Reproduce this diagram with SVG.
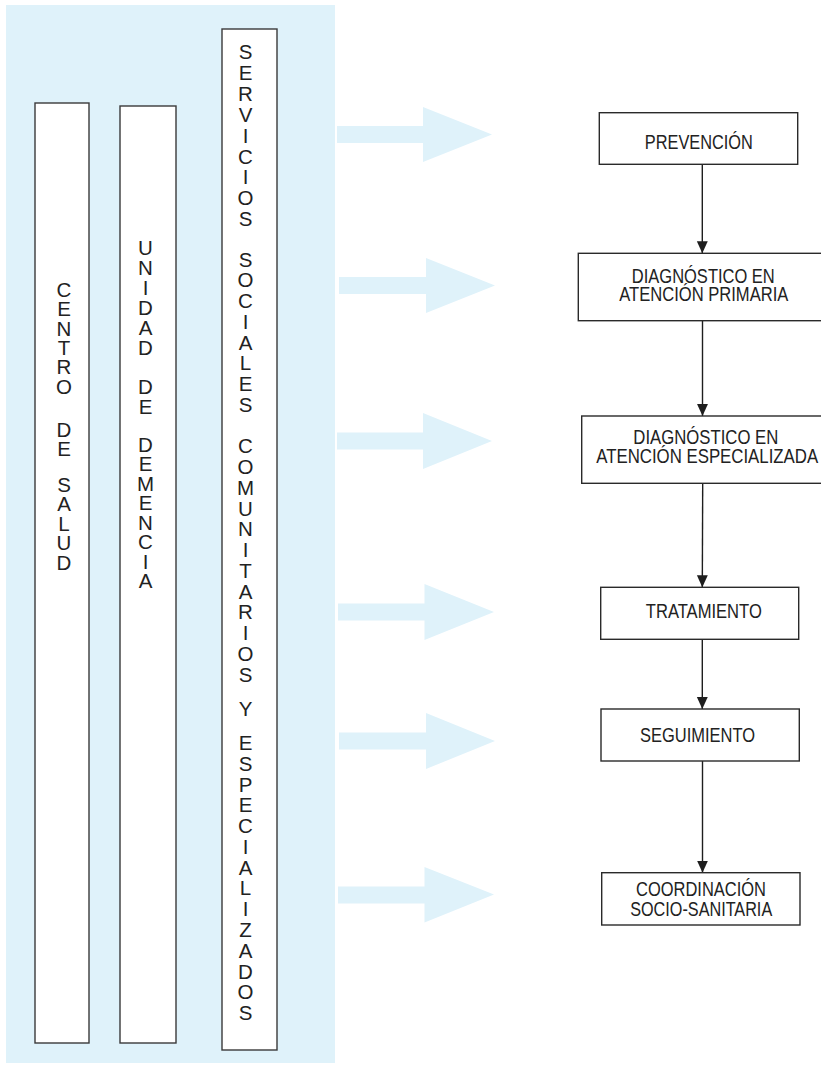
<svg xmlns="http://www.w3.org/2000/svg" width="821" height="1065" viewBox="0 0 821 1065">
<defs>
<style>
.panel{fill:#dff2fa}
.big{fill:#dff2fa}
.col{fill:#fff;stroke:#3a3a3a;stroke-width:1.4}
.box{fill:#fff;stroke:#2a2a2a;stroke-width:1.4}
.vt{font-family:"Liberation Sans Narrow","Liberation Sans",Arial,sans-serif;font-size:20.5px;fill:#222;text-anchor:middle}
.bt{font-family:"Liberation Sans Narrow","Liberation Sans",Arial,sans-serif;font-size:19.5px;fill:#222;text-anchor:middle}
.con{stroke:#1e1e1e;stroke-width:1.4;fill:none}
</style>
<marker id="ah" markerUnits="userSpaceOnUse" markerWidth="12" markerHeight="12" viewBox="0 0 11 10" refX="11" refY="5" orient="auto">
<path d="M0,0 L11,5 L0,10 z" fill="#1e1e1e"/>
</marker>
</defs>
<rect width="821" height="1065" fill="#fff"/>
<rect class="panel" x="6" y="5" width="329" height="1058"/>

<g id="bigarrows">
<polygon class="big" points="337,126 423,126 423,107 492,134.5 423,162 423,143 337,143"/>
<polygon class="big" points="339,277 426,277 426,258 495,285.5 426,313 426,294 339,294"/>
<polygon class="big" points="337,432.5 423,432.5 423,413 492,441 423,469 423,449.5 337,449.5"/>
<polygon class="big" points="338,603.5 424.5,603.5 424.5,584 494,612 424.5,640 424.5,620.5 338,620.5"/>
<polygon class="big" points="339,732.5 426,732.5 426,713 495,741 426,769 426,749.5 339,749.5"/>
<polygon class="big" points="338,886.5 424.5,886.5 424.5,867 494,894.5 424.5,922.5 424.5,903.5 338,903.5"/>
</g>

<g id="centro-de-salud">
<rect class="col" x="35" y="103" width="54" height="940"/>
<text class="vt"><tspan x="64" y="296.7">C</tspan><tspan x="64" y="316.1">E</tspan><tspan x="64" y="335.5">N</tspan><tspan x="64" y="354.9">T</tspan><tspan x="64" y="374.3">R</tspan><tspan x="64" y="393.7">O</tspan><tspan x="64" y="437">D</tspan><tspan x="64" y="456">E</tspan><tspan x="64" y="491.5">S</tspan><tspan x="64" y="511">A</tspan><tspan x="64" y="530.5">L</tspan><tspan x="64" y="550">U</tspan><tspan x="64" y="570">D</tspan></text>
</g>

<g id="unidad-de-demencia">
<rect class="col" x="120" y="106" width="56" height="937"/>
<text class="vt"><tspan x="145.5" y="255">U</tspan><tspan x="145.5" y="275">N</tspan><tspan x="145.5" y="295">I</tspan><tspan x="145.5" y="315">D</tspan><tspan x="145.5" y="335">A</tspan><tspan x="145.5" y="355">D</tspan><tspan x="145.5" y="394">D</tspan><tspan x="145.5" y="413.5">E</tspan><tspan x="145.5" y="451.7">D</tspan><tspan x="145.5" y="471.2">E</tspan><tspan x="145.5" y="490.7">M</tspan><tspan x="145.5" y="510.2">E</tspan><tspan x="145.5" y="529.7">N</tspan><tspan x="145.5" y="549.2">C</tspan><tspan x="145.5" y="568.7">I</tspan><tspan x="145.5" y="588.2">A</tspan></text>
</g>

<g id="servicios-sociales">
<rect class="col" x="222" y="29" width="55" height="1021"/>
<text class="vt"><tspan x="245.5" y="59">S</tspan><tspan x="245.5" y="79.9">E</tspan><tspan x="245.5" y="100.8">R</tspan><tspan x="245.5" y="121.7">V</tspan><tspan x="245.5" y="142.6">I</tspan><tspan x="245.5" y="163.5">C</tspan><tspan x="245.5" y="184.4">I</tspan><tspan x="245.5" y="205.3">O</tspan><tspan x="245.5" y="226.2">S</tspan><tspan x="245.5" y="266.7">S</tspan><tspan x="245.5" y="287.4">O</tspan><tspan x="245.5" y="308.1">C</tspan><tspan x="245.5" y="328.8">I</tspan><tspan x="245.5" y="349.5">A</tspan><tspan x="245.5" y="370.2">L</tspan><tspan x="245.5" y="390.9">E</tspan><tspan x="245.5" y="411.6">S</tspan><tspan x="245.5" y="453.3">C</tspan><tspan x="245.5" y="474.1">O</tspan><tspan x="245.5" y="494.8">M</tspan><tspan x="245.5" y="515.6">U</tspan><tspan x="245.5" y="536.3">N</tspan><tspan x="245.5" y="557.1">I</tspan><tspan x="245.5" y="577.9">T</tspan><tspan x="245.5" y="598.6">A</tspan><tspan x="245.5" y="619.4">R</tspan><tspan x="245.5" y="640.1">I</tspan><tspan x="245.5" y="660.9">O</tspan><tspan x="245.5" y="681.7">S</tspan><tspan x="245.5" y="716">Y</tspan><tspan x="245.5" y="750">E</tspan><tspan x="245.5" y="770.8">S</tspan><tspan x="245.5" y="791.5">P</tspan><tspan x="245.5" y="812.3">E</tspan><tspan x="245.5" y="833.1">C</tspan><tspan x="245.5" y="853.8">I</tspan><tspan x="245.5" y="874.6">A</tspan><tspan x="245.5" y="895.4">L</tspan><tspan x="245.5" y="916.2">I</tspan><tspan x="245.5" y="936.9">Z</tspan><tspan x="245.5" y="957.7">A</tspan><tspan x="245.5" y="978.5">D</tspan><tspan x="245.5" y="999.2">O</tspan><tspan x="245.5" y="1020">S</tspan></text>
</g>

<g id="connectors">
<line class="con" x1="702.3" y1="164.3" x2="702.3" y2="253.3" marker-end="url(#ah)"/>
<line class="con" x1="702.5" y1="320.7" x2="702.5" y2="416" marker-end="url(#ah)"/>
<line class="con" x1="702.7" y1="483.3" x2="702.3" y2="587.3" marker-end="url(#ah)"/>
<line class="con" x1="702.3" y1="639.3" x2="702.3" y2="709" marker-end="url(#ah)"/>
<line class="con" x1="702.5" y1="761" x2="702.5" y2="872.7" marker-end="url(#ah)"/>
</g>

<g id="prevencion">
<rect class="box" x="599.3" y="112.7" width="198.4" height="51.6"/>
<text class="bt" x="698.8" y="149.3" textLength="108" lengthAdjust="spacingAndGlyphs">PREVENCIÓN</text>
</g>
<g id="diagnostico-ap">
<rect class="box" x="578.3" y="253.3" width="252" height="67.4"/>
<text class="bt" x="703.3" y="282.7" textLength="143" lengthAdjust="spacingAndGlyphs">DIAGNÓSTICO EN</text>
<text class="bt" x="703.8" y="300.7" textLength="169" lengthAdjust="spacingAndGlyphs">ATENCIÓN PRIMARIA</text>
</g>
<g id="diagnostico-ae">
<rect class="box" x="581.7" y="416" width="252" height="67.3"/>
<text class="bt" x="705.8" y="444" textLength="145" lengthAdjust="spacingAndGlyphs">DIAGNÓSTICO EN</text>
<text class="bt" x="707.2" y="463.3" textLength="222" lengthAdjust="spacingAndGlyphs">ATENCIÓN ESPECIALIZADA</text>
</g>
<g id="tratamiento">
<rect class="box" x="600.7" y="587.3" width="198" height="52"/>
<text class="bt" x="703.8" y="618.3" textLength="116" lengthAdjust="spacingAndGlyphs">TRATAMIENTO</text>
</g>
<g id="seguimiento">
<rect class="box" x="601" y="709" width="198.3" height="52"/>
<text class="bt" x="697.5" y="741.7" textLength="115" lengthAdjust="spacingAndGlyphs">SEGUIMIENTO</text>
</g>
<g id="coordinacion">
<rect class="box" x="601.7" y="872.7" width="198.3" height="52.3"/>
<text class="bt" x="701" y="896" textLength="130" lengthAdjust="spacingAndGlyphs">COORDINACIÓN</text>
<text class="bt" x="701.2" y="915.7" textLength="142" lengthAdjust="spacingAndGlyphs">SOCIO-SANITARIA</text>
</g>
</svg>
